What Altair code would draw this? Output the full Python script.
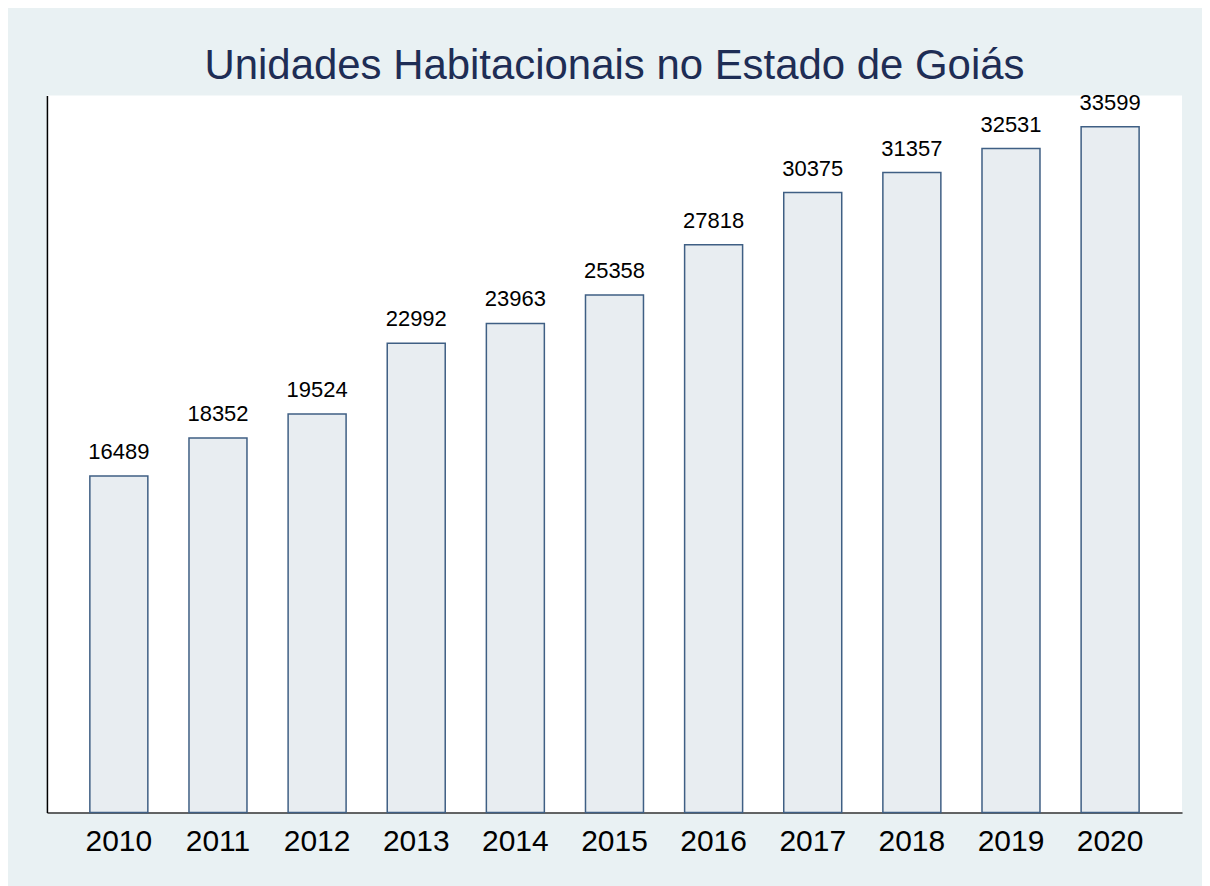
import altair as alt
import pandas as pd

anos = ["2010", "2011", "2012", "2013", "2014", "2015", "2016", "2017", "2018", "2019", "2020"]
unidades = [16489, 18352, 19524, 22992, 23963, 25358, 27818, 30375, 31357, 32531, 33599]

df = pd.DataFrame({"ano": anos, "unidades": unidades})

x = alt.X("ano:N", sort=anos, title=None,
          scale=alt.Scale(paddingInner=0.415, paddingOuter=0.433),
          axis=alt.Axis(labelAngle=0, labelFontSize=30, labelColor="black",
                        labelFont="Liberation Sans", ticks=False, labelPadding=14,
                        domainColor="#333333", domainWidth=1.5))
y = alt.Y("unidades:Q", title=None,
          scale=alt.Scale(domain=[0, 35130], nice=False, zero=True),
          axis=alt.Axis(labels=False, ticks=False, grid=False, domainColor="black",
                        domainWidth=1.5, minExtent=0, maxExtent=0))

bars = alt.Chart(df).mark_bar(fill="#e8edf1", stroke="#3f5f84", strokeWidth=1.5).encode(x=x, y=y)
labels = alt.Chart(df).mark_text(baseline="bottom", dy=-12, fontSize=22,
                                 font="Liberation Sans", color="black").encode(
    x=alt.X("ano:N", sort=anos), y="unidades:Q", text="unidades:Q")

chart = (bars + labels).properties(
    width=1137, height=718,
    title=alt.TitleParams("Unidades Habitacionais no Estado de Goiás", fontSize=42,
                          font="Liberation Sans", fontWeight="normal", color="#1e2d55",
                          anchor="middle", offset=4),
    padding={"left": 39, "top": 36, "right": 20, "bottom": 30},
    background="#e9f1f3",
).configure_view(fill="white", stroke=None)

chart.save("out.html", embed_options={"renderer": "svg", "actions": False})
